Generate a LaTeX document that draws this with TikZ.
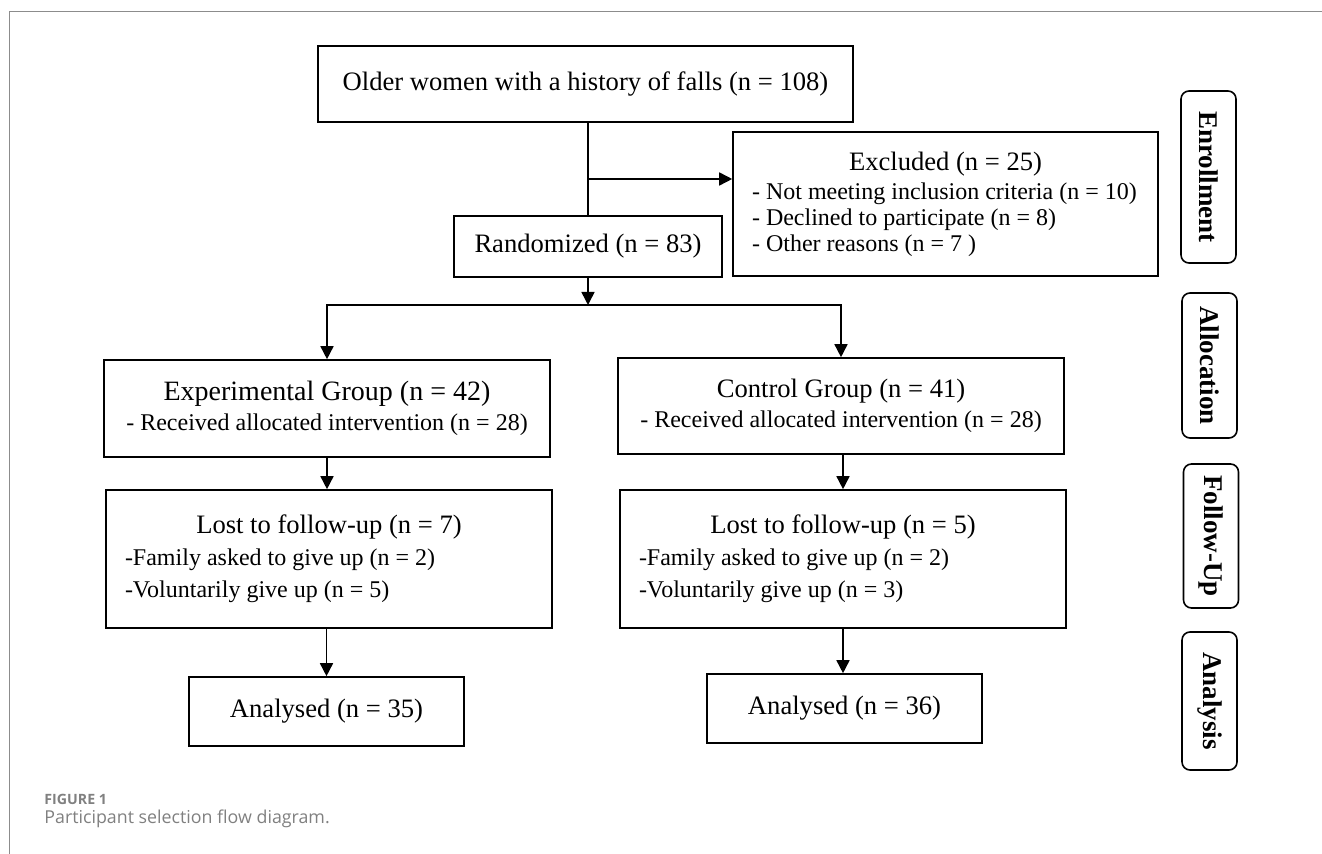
\documentclass[tikz,border=0pt]{standalone}
\usepackage{fontspec}
\setmainfont{Liberation Serif}
\newfontfamily\figcapfont{Open Sans}
\usepackage{tikz}
\usetikzlibrary{arrows.meta,positioning}
\usepackage{xcolor}
\definecolor{framegray}{HTML}{8C8C8C}
\definecolor{captiongray}{HTML}{808080}
\newcommand{\titletext}{\fontsize{13.3}{16}\selectfont}
\newcommand{\itemtext}{\fontsize{12}{13}\selectfont}

\begin{document}
\begin{tikzpicture}[
    x=0.5pt, y=-0.5pt,
    box/.style={draw, line width=0.8pt, inner sep=0pt, align=center, font=\titletext},
    listbox/.style={draw, line width=0.8pt, inner xsep=9.5pt, inner ysep=0pt, align=flush left, font=\itemtext},
    phase/.style={draw, line width=0.8pt, rounded corners=4pt, rotate=-90, inner sep=0pt, minimum height=27.5pt, font=\fontsize{13.5}{16}\selectfont\bfseries},
    arrow/.style={-{Triangle[length=6.5pt,width=6.5pt]}, line width=0.8pt},
    link/.style={line width=0.8pt}
]
\useasboundingbox (0,0) rectangle (1322,854);

% Frame
\draw[framegray, line width=0.5pt] (9,854) -- (9,11.5) -- (1322,11.5);

% Enrollment
\node[box, minimum width=267.5pt, minimum height=38pt] (women) at (585.5,84) {Older women with a history of falls (n = 108)};
\node[box, minimum width=134pt, minimum height=30.5pt] (random) at (588,246.5) {Randomized (n = 83)};
\node[listbox, text width=193.5pt, minimum height=72pt] (excluded) at (945.5,204) {{\centering\titletext Excluded (n = 25)\par}\vspace{1.5pt}
- Not meeting inclusion criteria (n = 10)\\
- Declined to participate (n = 8)\\
- Other reasons (n = 7 )};

% Allocation
\node[box, minimum width=223pt, minimum height=48.5pt, font=\fontsize{12}{15}\selectfont] (expgroup) at (327,408.5) {{\fontsize{14}{15}\selectfont Experimental Group (n = 42)}\\- Received allocated intervention (n = 28)};
\node[box, minimum width=223pt, minimum height=48pt, font=\fontsize{12}{15}\selectfont] (ctrlgroup) at (841,406) {{\titletext Control Group (n = 41)}\\- Received allocated intervention (n = 28)};

% Follow-up
\node[listbox, text width=204pt, minimum height=69pt, font=\fontsize{12}{16}\selectfont] (lostexp) at (329,559) {{\centering\titletext Lost to follow-up (n = 7)\par}
-Family asked to give up (n = 2)\\
-Voluntarily give up (n = 5)};
\node[listbox, text width=204pt, minimum height=69pt, font=\fontsize{12}{16}\selectfont] (lostctrl) at (843,559) {{\centering\titletext Lost to follow-up (n = 5)\par}
-Family asked to give up (n = 2)\\
-Voluntarily give up (n = 3)};

% Analysis
\node[box, minimum width=137.5pt, minimum height=34.5pt] (anaexp) at (326.5,711.5) {Analysed (n = 35)};
\node[box, minimum width=137.5pt, minimum height=34.5pt] (anactrl) at (844.5,708.5) {Analysed (n = 36)};

% Phases
\node[phase, minimum width=86pt] (enroll) at (1208.5,177) {Enrollment};
\node[phase, minimum width=72.5pt] (alloc) at (1209.5,365.5) {Allocation};
\node[phase, minimum width=72pt] (followup) at (1211,536) {Follow-Up};
\node[phase, minimum width=69pt] (analysis) at (1209.5,701) {Analysis};

% Connections
\coordinate (split) at (588,179);
\coordinate (fork) at (588,305);
\draw[link] (women.south -| random.north) -- (random.north);
\draw[arrow] (split) -- (split -| excluded.west);
\draw[arrow] (random.south) -- (fork);
\draw[arrow] (fork) -| (expgroup.north);
\draw[arrow] (fork) -| (ctrlgroup.north);
\draw[arrow] (expgroup.south) -- (expgroup.south |- lostexp.north);
\draw[arrow] (lostctrl.north |- ctrlgroup.south) -- (lostctrl.north);
\draw[arrow] (anaexp.north |- lostexp.south) -- (anaexp.north);
\draw[arrow] (lostctrl.south) -- (lostctrl.south |- anactrl.north);

% Caption
\node[anchor=base west, inner sep=0pt, text=captiongray, font=\figcapfont\bfseries\fontsize{7.1}{8}\selectfont] (figlabel) at (44,804) {FIGURE 1};
\node[anchor=base west, inner sep=0pt, text=captiongray, font=\figcapfont\fontsize{8.9}{10}\selectfont] (figtitle) at (44,823) {Participant selection flow diagram.};

\end{tikzpicture}
\end{document}
